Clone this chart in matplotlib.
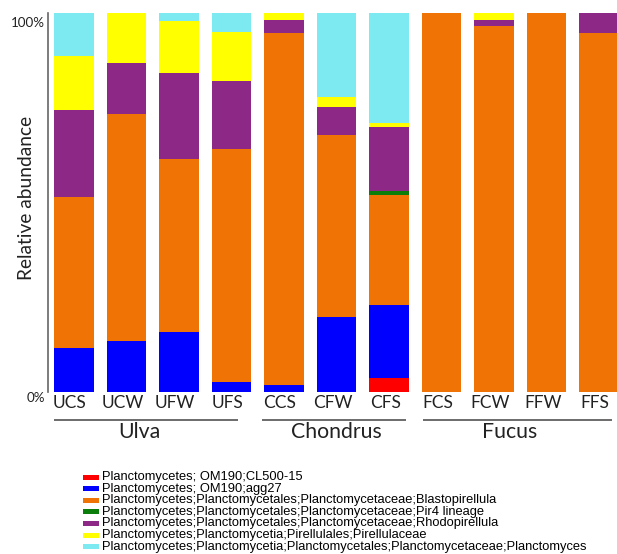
import numpy as np
import matplotlib
matplotlib.use('Agg')
import matplotlib.pyplot as plt
import matplotlib.transforms as mtransforms
from matplotlib import font_manager
from matplotlib.patches import Rectangle

# Sample names and groups
samples = ['UCS', 'UCW', 'UFW', 'UFS', 'CCS', 'CFW', 'CFS', 'FCS', 'FCW', 'FFW', 'FFS']
groups = ['Ulva', 'Chondrus', 'Fucus']

# Relative abundance (%) per taxon, bottom to top of each stack
cl500 = [0, 0, 0, 0, 0, 0, 3.7, 0, 0, 0, 0]
agg27 = [11.5, 13.4, 15.9, 2.6, 1.8, 19.8, 19.3, 0, 0, 0, 0]
blasto = [40.0, 60.0, 45.5, 61.5, 92.8, 48.1, 28.9, 100, 96.7, 100, 94.6]
pir4 = [0, 0, 0, 0, 0, 0, 1.1, 0, 0, 0, 0]
rhodo = [22.8, 13.4, 22.7, 18.0, 3.6, 7.4, 16.9, 0, 1.5, 0, 5.4]
pirellulaceae = [14.3, 13.2, 13.7, 12.8, 1.8, 2.6, 1.1, 0, 1.8, 0, 0]
planctomyces = [11.5, 0, 2.2, 5.1, 0, 22.1, 28.9, 0, 0, 0, 0]

taxa = [
    'Planctomycetes; OM190;CL500-15',
    'Planctomycetes; OM190;agg27',
    'Planctomycetes;Planctomycetales;Planctomycetaceae;Blastopirellula',
    'Planctomycetes;Planctomycetales;Planctomycetaceae;Pir4 lineage',
    'Planctomycetes;Planctomycetales;Planctomycetaceae;Rhodopirellula',
    'Planctomycetes;Planctomycetia;Pirellulales;Pirellulaceae',
    'Planctomycetes;Planctomycetia;Planctomycetales;Planctomycetaceae;Planctomyces',
]
colors = ['#ff0000', '#0000ff', '#f07306', '#0a7d0a', '#8e2887', '#ffff00', '#7deaf2']
series = [cl500, agg27, blasto, pir4, rhodo, pirellulaceae, planctomyces]

names = {f.name for f in font_manager.fontManager.ttflist}
if 'Liberation Sans Narrow' in names:
    narrow = 'Liberation Sans Narrow'
    fs_tick, fs_y, fs_ylab, fs_grp = 13.7, 10.5, 13.5, 14.5
else:
    narrow = 'Lato'
    fs_tick, fs_y, fs_ylab, fs_grp = 12.5, 9.6, 13.8, 15.3

fig = plt.figure(figsize=(6.17, 5.54), dpi=100)
ax = fig.add_axes([48 / 617, 1 - 392 / 554, 569 / 617, 379 / 554])

x = np.arange(len(samples))
bottom = np.zeros(len(samples))
for vals, col in zip(series, colors):
    vals = np.array(vals, dtype=float)
    ax.bar(x, vals, width=0.75, bottom=bottom, color=col, linewidth=0)
    bottom += vals

ax.set_xlim(-0.495, 10.34)
ax.set_ylim(0, 100)

for s in ['top', 'right', 'bottom']:
    ax.spines[s].set_visible(False)
ax.spines['left'].set_color('#666666')
ax.spines['left'].set_linewidth(1.2)

ax.set_xticks(x)
ax.set_xticklabels(samples, fontsize=fs_tick, family=narrow, color='#222222')
ax.tick_params(axis='x', length=0, pad=2)
for lab in ax.get_xticklabels():
    lab.set_transform(lab.get_transform() +
                      mtransforms.ScaledTranslation(-0.04, 0, fig.dpi_scale_trans))

ax.set_yticks([0, 100])
ax.set_yticklabels(['0%', '100%'], fontsize=fs_y, family=narrow, color='#222222')
ax.tick_params(axis='y', length=0, pad=2)
for lab, dy in zip(ax.get_yticklabels(), [-0.05, -0.09]):
    lab.set_transform(lab.get_transform() +
                      mtransforms.ScaledTranslation(0, dy, fig.dpi_scale_trans))

fig.text(27 / 617, 1 - 198 / 554, 'Relative abundance', rotation=90,
         ha='center', va='center', fontsize=fs_ylab, family=narrow, color='#222222')

# group underlines and names
line_spans = [(-0.38, 3.12), (3.58, 6.32), (6.65, 10.25)]
label_pos = [1.24, 4.99, 8.29]
line_y = 1 - 420 / 554
text_y = 1 - 432 / 554
trans = mtransforms.blended_transform_factory(ax.transData, fig.transFigure)
for (a, b), lx, name in zip(line_spans, label_pos, groups):
    ax.plot([a, b], [line_y, line_y], color='#444444', lw=1.1, transform=trans,
            clip_on=False, solid_capstyle='butt')
    ax.text(lx, text_y, name, transform=trans, ha='center', va='center',
            fontsize=fs_grp, family=narrow, color='#222222')

# legend
row_y0 = 477
row_dy = 11.6
for i, (lab, col) in enumerate(zip(taxa, colors)):
    yc = row_y0 + i * row_dy
    fig.patches.append(Rectangle((83 / 617, 1 - (yc + 2.5) / 554), 16 / 617, 5 / 554,
                                 transform=fig.transFigure, facecolor=col,
                                 edgecolor='none'))
    fig.text(102 / 617, 1 - yc / 554, lab, ha='left', va='center',
             fontsize=9.3, family='Liberation Sans', color='black')

fig.savefig('out.png', dpi=100)
